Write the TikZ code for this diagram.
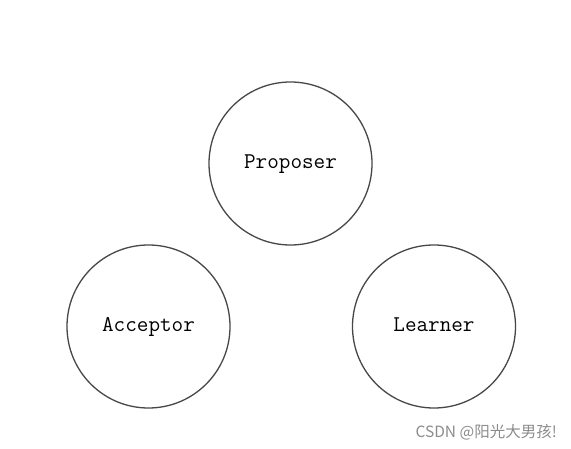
\documentclass[tikz,border=0pt]{standalone}
\usepackage{fontspec}
\newfontfamily\cjk{Noto Sans CJK SC}
\begin{document}
\begin{tikzpicture}[x=1pt,y=-1pt,
  role/.style={draw=black!72,line width=1.3pt,circle,minimum size=163pt,inner sep=0pt,
    text height=14pt,text depth=4pt,
    font=\ttfamily\fontsize{22.5}{26}\selectfont,text=black}]
\useasboundingbox[fill=white] (0,0) rectangle (571,449);
\node[role] (proposer) at (290.5,163.5) {Proposer};
\node[role] (acceptor) at (148.5,326.5) {Acceptor};
\node[role] (learner) at (434,326.5) {Learner};
\node[anchor=east,text=black!45,font=\cjk\fontsize{15.5}{18}\selectfont,inner sep=0pt] (wm) at (557,432) {CSDN @阳光大男孩!};
\end{tikzpicture}
\end{document}
